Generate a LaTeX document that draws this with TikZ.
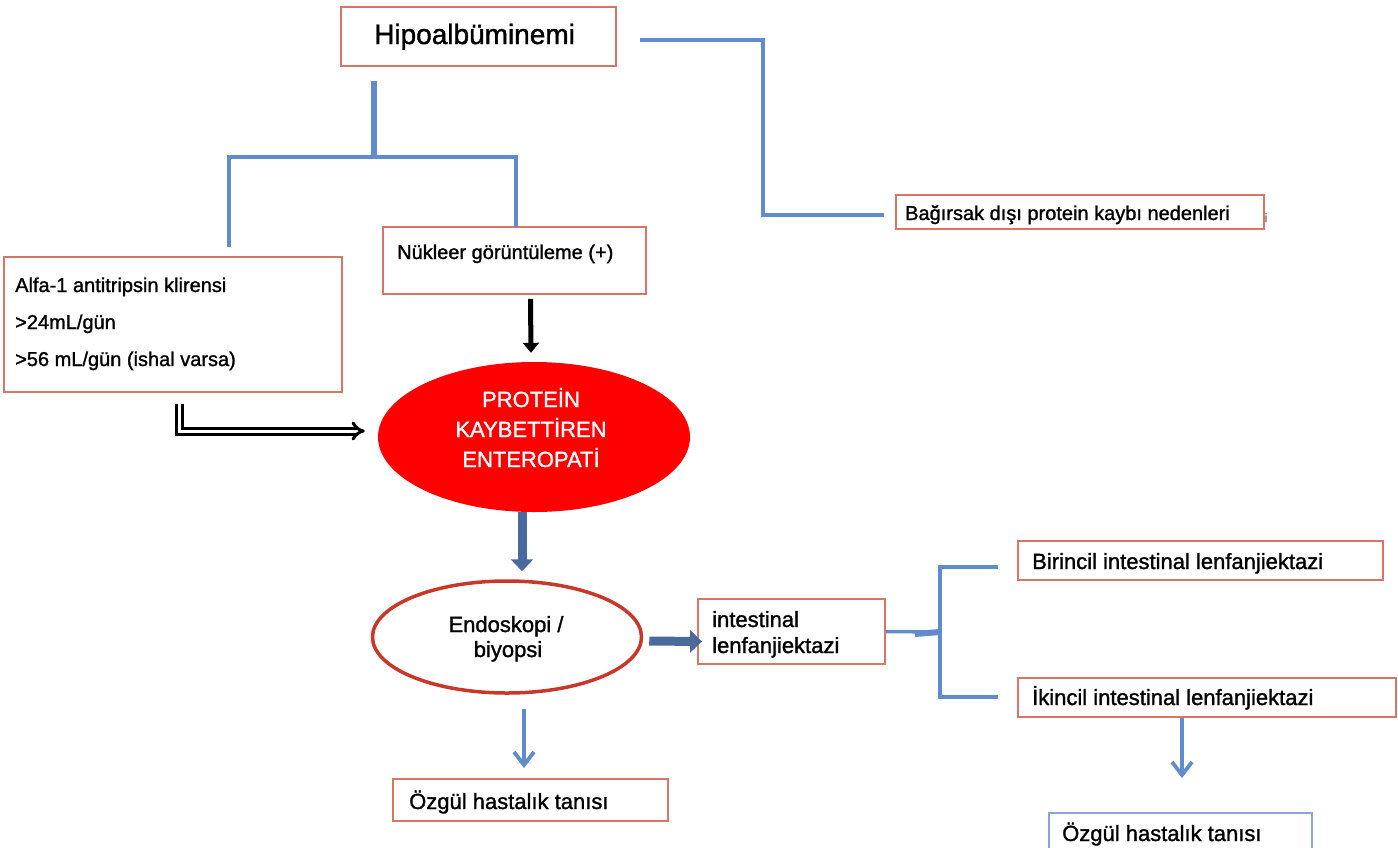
\documentclass[tikz,border=0pt]{standalone}
\usepackage{fontspec}
\setmainfont{Liberation Sans}[FakeBold=1.3]
\usetikzlibrary{arrows.meta,shapes.geometric,fit,calc}
\definecolor{boxred}{RGB}{214,118,104}
\definecolor{lineblue}{RGB}{96,140,205}
\definecolor{steel}{RGB}{74,106,158}
\definecolor{ovalred}{RGB}{200,55,40}
\definecolor{softblue}{RGB}{140,165,210}
\begin{document}
\begin{tikzpicture}[x=1pt,y=-1pt,
  box/.style={draw=boxred, line width=1.8pt, inner sep=0pt},
  txt/.style={anchor=base west, inner sep=0pt, font=\fontsize{20}{24}\selectfont},
  txtl/.style={txt, font=\fontsize{22}{26}\selectfont},
  ctxt/.style={anchor=base, inner sep=0pt, font=\fontsize{22}{26}\selectfont},
  bline/.style={draw=lineblue, line width=3.5pt},
  bthick/.style={draw=lineblue, line width=6pt},
  barrow/.style={draw=lineblue, line width=3.8pt, -{Straight Barb[length=13pt,width=20pt]}},
  steelarrow/.style={draw=steel, line width=9pt, -{Triangle[length=12pt,width=22pt]}},
  blkarrow/.style={draw=black, line width=5pt, -{Triangle[length=10pt,width=16pt]}},
  dblarrow/.style={draw=black, double=white, double distance=3pt, line width=3pt, -{Implies}}
]
\useasboundingbox (0,0) rectangle (1398,847);
\clip (0,0) rectangle (1398,847);

% boxes
\node[box, fit={(341,7) (616,66)}] (hipo) {};
\node[box, fit={(896,195) (1264,229)}] (bag) {};
\node[box, fit={(4,257) (342,392)}] (alfa) {};
\node[box, fit={(383,227) (646,294)}] (nuk) {};
\node[box, fit={(698,599) (885,664)}] (inte) {};
\node[box, fit={(1018,541) (1383,580)}] (bir) {};
\node[box, fit={(1018,678) (1396,717)}] (iki) {};
\node[box, fit={(393,779) (668,821)}] (oz1) {};
\node[box, draw=softblue, fit={(1049,813) (1312,870)}] (oz2) {};

% ellipses
\node[ellipse, fill=red, minimum width=312pt, minimum height=150pt, inner sep=0pt] (pe) at (534,437) {};
\node[ellipse, draw=ovalred, line width=3.5pt, minimum width=269pt, minimum height=112pt, inner sep=0pt] (endo) at (507,637) {};

% texts
\node[txt, font=\fontsize{28}{32}\selectfont] (thipo) at (374,44) {Hipoalbüminemi};
\node[txt] (tbag) at (905,220) {Bağırsak dışı protein kaybı nedenleri};
\node[anchor=base, inner sep=0pt, text=gray, font=\fontsize{12}{12}\selectfont] (tstray) at (1266,222) {i};
\node[txt] (talfa1) at (15,292) {Alfa-1 antitripsin klirensi};
\node[txt] (talfa2) at (15,329) {>24mL/gün};
\node[txt] (talfa3) at (15,366) {>56 mL/gün (ishal varsa)};
\node[txt] (tnuk) at (397,259) {Nükleer görüntüleme (+)};
\node[ctxt, text=white] (tpe1) at (531,407) {PROTEİN};
\node[ctxt, text=white] (tpe2) at (531,437) {KAYBETTİREN};
\node[ctxt, text=white] (tpe3) at (531,467) {ENTEROPATİ};
\node[ctxt] (tendo1) at (506,632) {Endoskopi /};
\node[ctxt] (tendo2) at (508,657) {biyopsi};
\node[txtl] (tint1) at (712,627) {intestinal};
\node[txtl] (tint2) at (712,653) {lenfanjiektazi};
\node[txtl] (tbir) at (1032,569) {Birincil intestinal lenfanjiektazi};
\node[txtl] (tiki) at (1032,705) {İkincil intestinal lenfanjiektazi};
\node[txtl] (toz1) at (409,809) {Özgül hastalık tanısı};
\node[txtl] (toz2) at (1062,841) {Özgül hastalık tanısı};

% connectors
\coordinate (hr) at (640,40);
\draw[bline] (hr) -- (763,40) |- ([xshift=-11pt,yshift=-3pt]bag.west);

\coordinate (st) at (374,81);
\coordinate (jn) at (374,157);
\coordinate (la) at (229,247);
\coordinate (nt) at (516,227);
\draw[bthick] (st) -- (jn);
\draw[bline] (la) |- (jn);
\draw[bline] (jn) -| (nt);

\draw[blkarrow] ([xshift=16pt,yshift=-4pt]nuk.south) -- ([xshift=-3pt,yshift=9pt]pe.north);
\draw[dblarrow] ([xshift=6pt,yshift=-11pt]alfa.south) |- ([xshift=-13pt,yshift=6pt]pe.west);

\draw[steelarrow] ([xshift=-12pt]pe.south) -- ([xshift=15pt,yshift=8pt]endo.north);
\draw[steelarrow] ([xshift=6pt,yshift=-4pt]endo.east) -- ([xshift=5pt,yshift=-10pt]inte.west);

\coordinate (br) at (940,632);
\coordinate (bt) at (998,567);
\coordinate (bb) at (998,697);
\draw[bline] (inte.east) -- (br);
\draw[bthick] (915,634) -- (br);
\draw[bline] (bt) -- (940,567) -- (940,697) -- (bb);

\draw[barrow] ([xshift=-25pt]iki.south) -- ([xshift=1.5pt,yshift=34pt]oz2.north);
\draw[barrow] ([xshift=17pt,yshift=-14pt]endo.south) -- ([xshift=-6.5pt,yshift=10pt]oz1.north);
\end{tikzpicture}
\end{document}
